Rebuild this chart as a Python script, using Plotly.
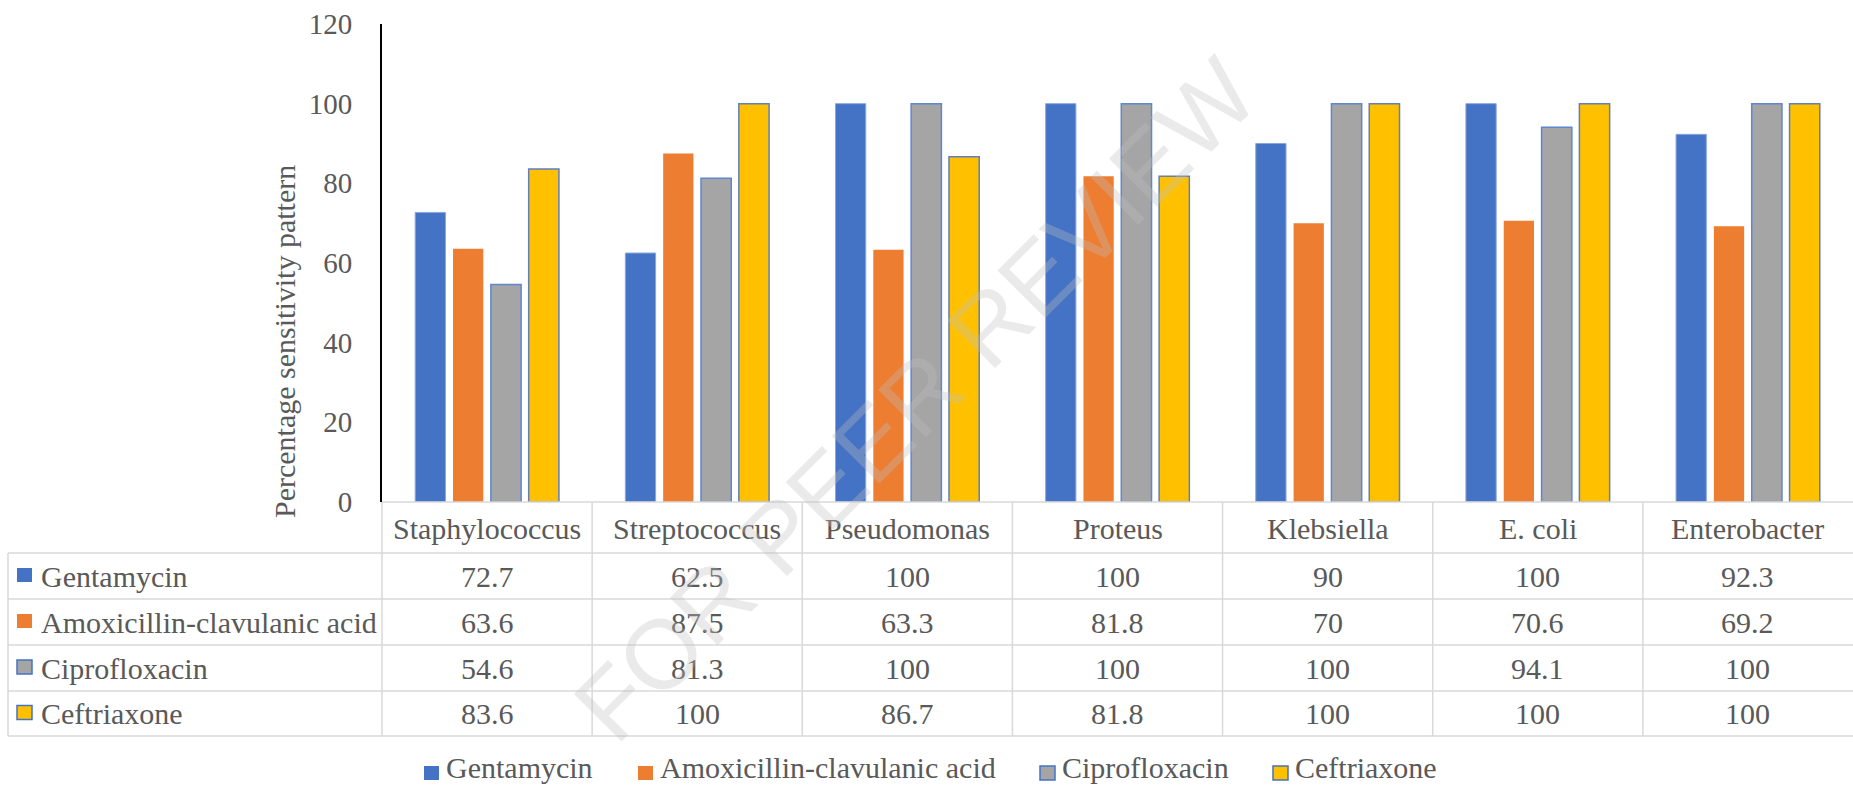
import plotly.graph_objects as go

# ---------------- data ----------------
categories = ["Staphylococcus", "Streptococcus", "Pseudomonas", "Proteus",
              "Klebsiella", "E. coli", "Enterobacter"]
drug_names = ["Gentamycin", "Amoxicillin-clavulanic acid", "Ciprofloxacin", "Ceftriaxone"]
gentamycin = [72.7, 62.5, 100, 100, 90, 100, 92.3]
amoxiclav = [63.6, 87.5, 63.3, 81.8, 70, 70.6, 69.2]
ciprofloxacin = [54.6, 81.3, 100, 100, 100, 94.1, 100]
ceftriaxone = [83.6, 100, 86.7, 81.8, 100, 100, 100]
y_ticks = [0, 20, 40, 60, 80, 100, 120]
y_title = "Percentage sensitivity pattern"
watermark = "FOR PEER REVIEW"

series = [gentamycin, amoxiclav, ciprofloxacin, ceftriaxone]
fill_colors = ["#4472C4", "#ED7D31", "#A5A5A5", "#FFC000"]
edge_colors = ["#8AA6DD", "#ED7D31", "#5F86D0", "#5F7FBF"]
edge_widths = [1, 0, 1.5, 1.5]

# ---------------- geometry (pixels) ----------------
W, H = 1853, 791
L, T = 382, 24
PLOT_BOTTOM = 502
B = H - PLOT_BOTTOM
PW = W - L
PH = PLOT_BOTTOM - T
FONT = "Liberation Serif, Times New Roman, serif"
TXT = "#595959"
GRID = "#D9D9D9"
FS = 30


def xp(px):
    return (px - L) / PW


def yp(py):
    return (PLOT_BOTTOM - py) / PH


row_lines = [553, 599, 645, 691, 736]
header_center = 528
row_centers = [(row_lines[i] + row_lines[i + 1]) / 2 for i in range(4)]
legend_text_y = 768
legend_key_y = 773
legend_marker_x = [424, 638, 1040, 1273]

fig = go.Figure()
for name, vals, fc, ec, ew in zip(drug_names, series, fill_colors, edge_colors, edge_widths):
    fig.add_trace(go.Bar(
        name=name, x=categories, y=vals, showlegend=False,
        marker=dict(color=fc, line=dict(color=ec, width=ew)),
    ))

shapes = []
line_style = dict(color=GRID, width=1.5)
# top border of the table (category axis line)
shapes.append(dict(type="line", xref="paper", yref="paper",
                   x0=0, x1=1, y0=yp(PLOT_BOTTOM), y1=yp(PLOT_BOTTOM), line=line_style))
# horizontal row lines
for ry in row_lines:
    shapes.append(dict(type="line", xref="paper", yref="paper",
                       x0=xp(8), x1=1, y0=yp(ry), y1=yp(ry), line=line_style))
# left border of table legend column
shapes.append(dict(type="line", xref="paper", yref="paper",
                   x0=xp(8), x1=xp(8), y0=yp(row_lines[0]), y1=yp(row_lines[-1]), line=line_style))
# column borders
n = len(categories)
for b in range(n):
    xb = b / n
    shapes.append(dict(type="line", xref="paper", yref="paper",
                       x0=xb, x1=xb, y0=yp(PLOT_BOTTOM), y1=yp(row_lines[-1]), line=line_style))


def key_rect(x0, cy, fc, ew):
    return dict(type="rect", xref="paper", yref="paper",
                x0=xp(x0), x1=xp(x0 + 15), y0=yp(cy - 7), y1=yp(cy + 7),
                fillcolor=fc,
                line=dict(color=("#4472C4" if ew > 1 else fc), width=(1.5 if ew > 1 else 0)))


# legend keys in the table
for i, (fc, ew) in enumerate(zip(fill_colors, edge_widths)):
    shapes.append(key_rect(17, row_centers[i] - 1, fc, ew))
# bottom legend keys
for i, (fc, ew) in enumerate(zip(fill_colors, edge_widths)):
    shapes.append(key_rect(legend_marker_x[i], legend_key_y, fc, ew))

annotations = []
tfont = dict(family=FONT, size=FS, color=TXT)
# header
for i, c in enumerate(categories):
    annotations.append(dict(x=i, xref="x", y=yp(header_center), yref="paper",
                            text=c, showarrow=False, xanchor="center", yanchor="middle",
                            font=tfont))
# values
for r, vals in enumerate(series):
    for i, v in enumerate(vals):
        annotations.append(dict(x=i, xref="x", y=yp(row_centers[r]), yref="paper",
                                text=f"{v:g}", showarrow=False, xanchor="center", yanchor="middle",
                                font=tfont))
    annotations.append(dict(x=xp(39), xref="paper", y=yp(row_centers[r]), yref="paper",
                            text=drug_names[r], showarrow=False, xanchor="left", yanchor="middle",
                            font=tfont))
# bottom legend labels
for i, name in enumerate(drug_names):
    annotations.append(dict(x=xp(legend_marker_x[i] + 21), xref="paper", y=yp(legend_text_y), yref="paper",
                            text=name, showarrow=False, xanchor="left", yanchor="middle",
                            borderpad=0, font=tfont))
# y axis title
annotations.append(dict(x=xp(284), xref="paper", y=yp(342), yref="paper",
                        text=y_title, textangle=-90, showarrow=False,
                        xanchor="center", yanchor="middle",
                        font=dict(family=FONT, size=30, color=TXT)))
# watermark
annotations.append(dict(x=xp(915), xref="paper", y=yp(400), yref="paper",
                        text=watermark, textangle=-45, showarrow=False,
                        xanchor="center", yanchor="middle",
                        font=dict(family="Liberation Sans, Arial, sans-serif", size=98,
                                  color="rgba(190,190,190,0.33)")))

fig.update_layout(
    width=W, height=H,
    margin=dict(l=L, r=0, t=T, b=B, pad=0, autoexpand=False),
    paper_bgcolor="white", plot_bgcolor="white",
    barmode="group", bargap=0.28, bargroupgap=0.2,
    showlegend=False,
    xaxis=dict(range=[-0.5, n - 0.5], showticklabels=False, showgrid=False,
               zeroline=False, showline=False, ticks=""),
    yaxis=dict(range=[0, 120], tickvals=y_ticks, showgrid=False, zeroline=False,
               showline=True, linecolor="black", linewidth=2, ticks="",
               ticklabelstandoff=22,
               tickfont=dict(family=FONT, size=29, color=TXT)),
    shapes=shapes, annotations=annotations,
)

fig.write_html("out.html")
